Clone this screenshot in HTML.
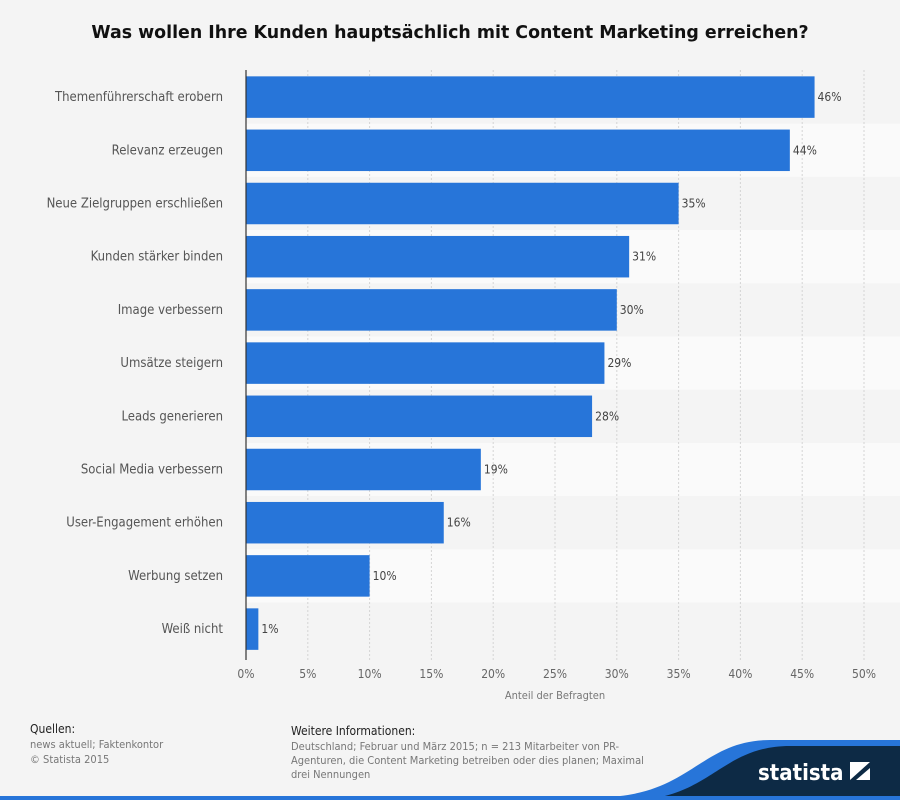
<!DOCTYPE html>
<html><head><meta charset="utf-8"><style>
body{margin:0;background:#f4f4f4;font-family:"DejaVu Sans Condensed","Liberation Sans",sans-serif;}
#wrap{position:relative;width:900px;height:800px;overflow:hidden;background:#f4f4f4;}
.t{position:absolute;white-space:nowrap;}
</style></head><body>
<div id="wrap">
<div class="t" style="left:0;width:900px;text-align:center;top:23px;font-size:17.4px;font-weight:bold;color:#111;font-family:'DejaVu Sans','Liberation Sans',sans-serif;">Was wollen Ihre Kunden hauptsächlich mit Content Marketing erreichen?</div>
<svg id="chart" width="900" height="720" style="position:absolute;left:0;top:0"></svg>
<div class="t" style="left:30px;top:722px;font-size:12px;color:#222;">Quellen:</div>
<div class="t" style="left:30px;top:737px;font-size:11px;color:#777;line-height:15px;">news aktuell; Faktenkontor<br>© Statista 2015</div>
<div class="t" style="left:291px;top:724px;font-size:12px;color:#222;">Weitere Informationen:</div>
<div class="t" style="left:291px;top:740px;font-size:11px;color:#777;line-height:14px;">Deutschland; Februar und März 2015; n = 213 Mitarbeiter von PR-<br>Agenturen, die Content Marketing betreiben oder dies planen; Maximal<br>drei Nennungen</div>
<svg width="900" height="800" style="position:absolute;left:0;top:0">
<path d="M600,800 L600,797 C690,797 700,740 770,740 L900,740 L900,800 Z" fill="#2775d9"/>
<path d="M630,800 C710,800 720,746 790,746 L900,746 L900,800 Z" fill="#0d2a45"/>
<rect x="0" y="796" width="900" height="4" fill="#2775d9"/>
<text x="758" y="780" font-size="22" font-weight="bold" fill="#fff" font-family="DejaVu Sans Condensed, Liberation Sans, sans-serif">statista</text>
<rect x="850" y="762" width="20" height="18" fill="#fff"/>
<path d="M850,780 L870,762 L870,768 L856,780 Z" fill="#0d2a45"/>
</svg>
</div>
<script>
const categories=["Themenführerschaft erobern","Relevanz erzeugen","Neue Zielgruppen erschließen","Kunden stärker binden","Image verbessern","Umsätze steigern","Leads generieren","Social Media verbessern","User-Engagement erhöhen","Werbung setzen","Weiß nicht"];
const values=[46,44,35,31,30,29,28,19,16,10,1];
const ticks=[0,5,10,15,20,25,30,35,40,45,50];
const NS="http://www.w3.org/2000/svg";
const svg=document.getElementById('chart');
const x0=246,x1=864,xMax=50,top0=70.5,pitch=53.2,barH=41.5;
function xs(v){return x0+(v/xMax)*(x1-x0);}
function yRow(i){return top0+i*pitch;}
function mk(tag,attrs){const e=document.createElementNS(NS,tag);for(const k in attrs)e.setAttribute(k,attrs[k]);svg.appendChild(e);return e;}
categories.forEach((c,i)=>{
  const r=mk('rect',{x:x0,y:yRow(i),width:x1-x0+36,height:pitch,fill:i%2?'#fafafa':'#f4f4f4'});
  
  
});
ticks.forEach(t=>{
  if(t>0){const g=mk('line',{x1:xs(t),x2:xs(t),y1:70,y2:660,stroke:'#d4d4d4','stroke-dasharray':'2,2','stroke-width':1});
  
  }
  const l=mk('text',{x:xs(t),y:678,'text-anchor':'middle','font-size':12,fill:'#666'});
  l.textContent=t+'%';
  
  
});
categories.forEach((c,i)=>{
  const y=yRow(i)+(pitch-barH)/2;
  const b=mk('rect',{x:x0,y:y,width:xs(values[i])-x0,height:barH,fill:'#2775d9'});
  
  
  const v=mk('text',{x:xs(values[i])+3,y:y+barH/2+4,'font-size':12,fill:'#444'});
  v.textContent=values[i]+'%';
  
  
  const l=mk('text',{x:223,y:y+barH/2+4,'text-anchor':'end','font-size':13,fill:'#555'});
  l.textContent=c;
  
  
});
const ax=mk('line',{x1:x0,x2:x0,y1:70,y2:660,stroke:'#333','stroke-width':1.2});


const at=mk('text',{x:555,y:699,'text-anchor':'middle','font-size':11,fill:'#777'});
at.textContent='Anteil der Befragten';


</script>
</body></html>
